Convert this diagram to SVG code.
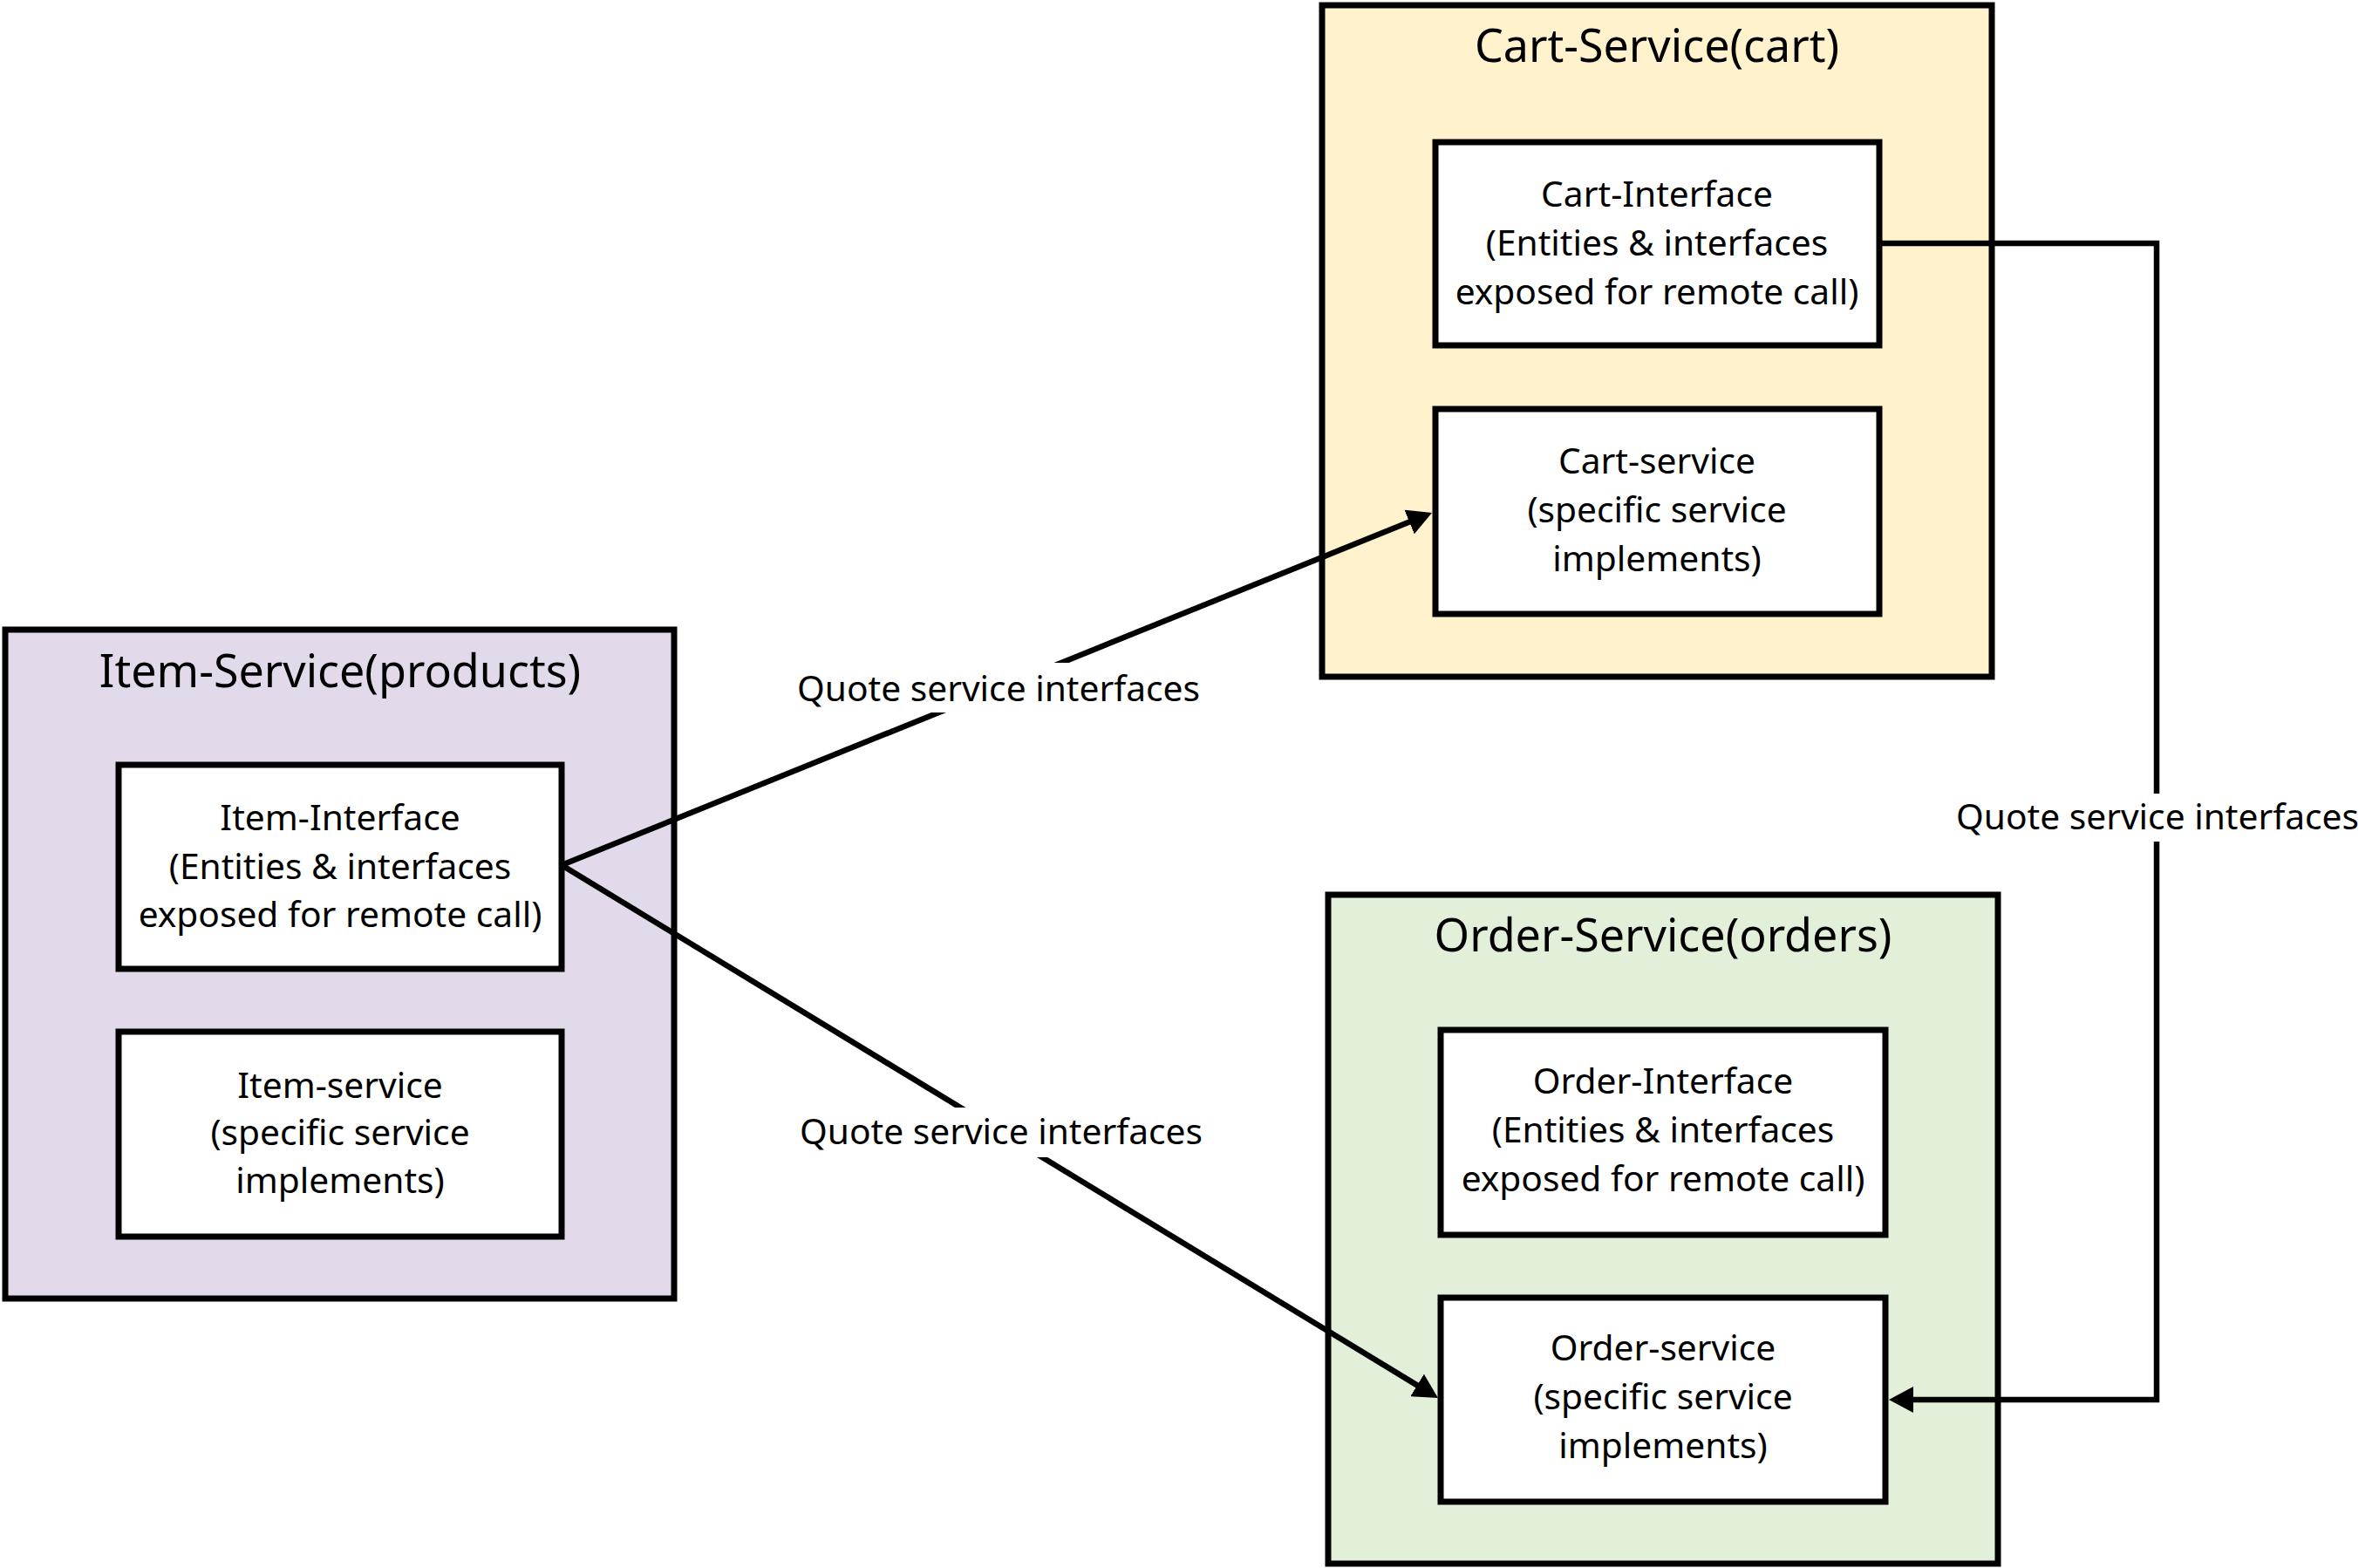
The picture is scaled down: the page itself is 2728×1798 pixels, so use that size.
<svg xmlns="http://www.w3.org/2000/svg" width="2728" height="1798" viewBox="0 0 2728 1798">
<style>
.outer{stroke:#000;stroke-width:7}
.inner{fill:#fff;stroke:#000;stroke-width:7}
.title{font-family:"Noto Sans","Open Sans",sans-serif;font-size:52px;fill:#000;text-anchor:middle}
.body{font-family:"Noto Sans","Open Sans",sans-serif;font-size:40.7px;fill:#000;text-anchor:middle}
.lbl{font-family:"Noto Sans","Open Sans",sans-serif;font-size:40.7px;fill:#000;text-anchor:middle}
.conn{fill:none;stroke:#000;stroke-width:6.5}
.lblbg{fill:#fff}
</style>
<defs>
<marker id="arrow" markerUnits="userSpaceOnUse" markerWidth="28" markerHeight="30" viewBox="0 0 28 30" refX="8" refY="15" orient="auto">
<path d="M0,0 L28,15 L0,30 z" fill="#000"/>
</marker>
</defs>
<rect width="2728" height="1798" fill="#fff"/>

<g id="item-service">
<rect class="outer" x="6" y="722" width="767" height="767" fill="#E2DAEA"/>
<text class="title" x="390" y="788">Item-Service(products)</text>
</g>
<g id="item-interface">
<rect class="inner" x="136" y="877" width="508" height="234"/>
<text class="body" x="390" y="952">Item-Interface</text>
<text class="body" x="390" y="1008">(Entities &amp; interfaces</text>
<text class="body" x="390" y="1063">exposed for remote call)</text>
</g>
<g id="item-service-impl">
<rect class="inner" x="136" y="1183" width="508" height="235"/>
<text class="body" x="390" y="1259">Item-service</text>
<text class="body" x="390" y="1313">(specific service</text>
<text class="body" x="390" y="1368">implements)</text>
</g>

<g id="cart-service">
<rect class="outer" x="1516" y="6" width="768" height="770" fill="#FFF2CC"/>
<text class="title" x="1900" y="71">Cart-Service(cart)</text>
</g>
<g id="cart-interface">
<rect class="inner" x="1646" y="163" width="509" height="233"/>
<text class="body" x="1900" y="237">Cart-Interface</text>
<text class="body" x="1900" y="293">(Entities &amp; interfaces</text>
<text class="body" x="1900" y="349">exposed for remote call)</text>
</g>
<g id="cart-service-impl">
<rect class="inner" x="1646" y="469" width="509" height="235"/>
<text class="body" x="1900" y="543">Cart-service</text>
<text class="body" x="1900" y="599">(specific service</text>
<text class="body" x="1900" y="655">implements)</text>
</g>

<g id="order-service">
<rect class="outer" x="1523" y="1026" width="768" height="767" fill="#E2EFD9"/>
<text class="title" x="1907" y="1091">Order-Service(orders)</text>
</g>
<g id="order-interface">
<rect class="inner" x="1652" y="1181" width="510" height="235"/>
<text class="body" x="1907" y="1254">Order-Interface</text>
<text class="body" x="1907" y="1310">(Entities &amp; interfaces</text>
<text class="body" x="1907" y="1366">exposed for remote call)</text>
</g>
<g id="order-service-impl">
<rect class="inner" x="1652" y="1488" width="510" height="234"/>
<text class="body" x="1907" y="1560">Order-service</text>
<text class="body" x="1907" y="1616">(specific service</text>
<text class="body" x="1907" y="1672">implements)</text>
</g>

<g id="connectors">
<line class="conn" x1="644" y1="992" x2="1623.5" y2="595.5" marker-end="url(#arrow)"/>
<line class="conn" x1="644" y1="992" x2="1631.9" y2="1592.6" marker-end="url(#arrow)"/>
<polyline class="conn" points="2155,279 2473,279 2473,1605 2186,1605" marker-end="url(#arrow)"/>
<rect class="lblbg" x="910" y="760" width="470" height="57"/>
<text class="lbl" x="1145" y="804">Quote service interfaces</text>
<rect class="lblbg" x="912" y="1270" width="472" height="57"/>
<text class="lbl" x="1148" y="1312">Quote service interfaces</text>
<rect class="lblbg" x="2238" y="910" width="472" height="55"/>
<text class="lbl" x="2474" y="951">Quote service interfaces</text>
</g>
</svg>
